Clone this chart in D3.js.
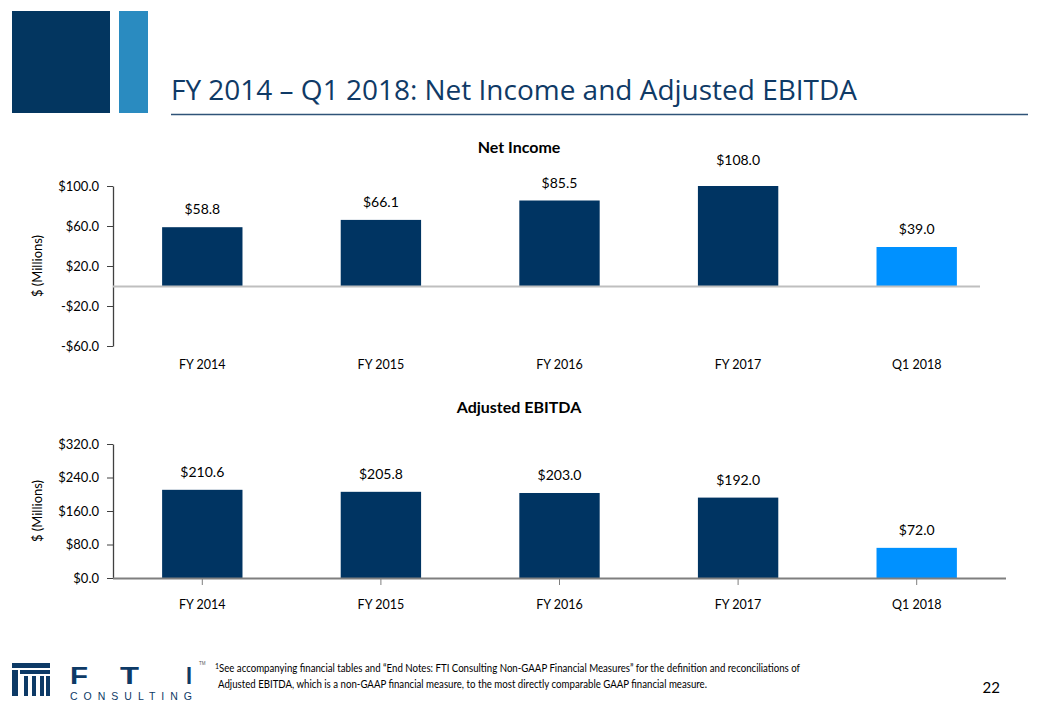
<!DOCTYPE html>
<html><head><meta charset="utf-8">
<script src="https://cdn.jsdelivr.net/npm/d3@7"></script>
<style>body{margin:0;background:#fff}svg{display:block}</style>
</head><body>
<script>
const categories = ["FY 2014","FY 2015","FY 2016","FY 2017","Q1 2018"];
const netIncome = [58.8, 66.1, 85.5, 108.0, 39.0];
const ebitda = [210.6, 205.8, 203.0, 192.0, 72.0];
const netTicks = [100, 60, 20, -20, -60];
const ebitdaTicks = [320, 240, 160, 80, 0];
const barColors = ["#003462","#003462","#003462","#003462","#0091ff"];

const W=1040,H=720;
const svg=d3.select("body").append("svg").attr("width",W).attr("height",H);
const font="Lato, 'Liberation Sans', sans-serif";

// header squares
svg.append("rect").attr("x",12).attr("y",11).attr("width",98).attr("height",102).attr("fill","#033660");
svg.append("rect").attr("x",119).attr("y",11).attr("width",29).attr("height",102).attr("fill","#2a8bc0");
svg.append("text").attr("x",171).attr("y",100).attr("font-family","'Open Sans', sans-serif").attr("font-size",28)
  .attr("fill","#0f3a66").attr("textLength",686).attr("lengthAdjust","spacingAndGlyphs")
  .text("FY 2014 – Q1 2018: Net Income and Adjusted EBITDA");
svg.append("line").attr("x1",171).attr("x2",1028).attr("y1",114.5).attr("y2",114.5).attr("stroke","#2f5378").attr("stroke-width",1.5);

const x=d3.scaleBand().domain(categories).range([113,1006]).paddingInner(0.55).paddingOuter(0.275);

function chart(opts){
  const {values,ticks,domain,yr,title,titleY,catY,zeroEnd,zeroColor,xTicks}=opts;
  const y=d3.scaleLinear().domain(domain).range(yr);
  svg.append("text").attr("x",519).attr("y",titleY).attr("text-anchor","middle").attr("font-family",font)
    .attr("font-weight","bold").attr("font-size",16).attr("fill","#000").text(title);
  const ya=svg.append("g").attr("transform","translate(113,0)").call(d3.axisLeft(y).tickValues(ticks).tickSize(6).tickSizeOuter(0)
     .tickFormat(d=>(d<0?"-$":"$")+Math.abs(d).toFixed(1)));
  ya.select(".domain").attr("stroke","#404040").attr("stroke-width",1.3);
  ya.selectAll(".tick line").attr("stroke","#404040");
  ya.selectAll(".tick text").attr("font-family",font).attr("font-size",13).attr("fill","#000").attr("x",-14);
  svg.append("text").attr("transform",`translate(42,${(yr[0]+yr[1])/2}) rotate(-90)`).attr("text-anchor","middle")
    .attr("font-family",font).attr("font-size",13).attr("fill","#000").text("$ (Millions)");
  const y0=y(0);
  const top=y(domain[1]);
  svg.append("g").selectAll("rect").data(values).join("rect")
    .attr("x",(d,i)=>x(categories[i])).attr("width",x.bandwidth())
    .attr("y",d=>Math.max(y(d),top)).attr("height",d=>y0-Math.max(y(d),top))
    .attr("fill",(d,i)=>barColors[i]);
  svg.append("line").attr("x1",113).attr("x2",zeroEnd).attr("y1",y0+0.5).attr("y2",y0+0.5).attr("stroke",zeroColor).attr("stroke-width",2);
  if(xTicks){
    svg.append("g").selectAll("line").data(categories).join("line")
      .attr("x1",d=>x(d)+x.bandwidth()/2).attr("x2",d=>x(d)+x.bandwidth()/2)
      .attr("y1",y0+1).attr("y2",y0+7).attr("stroke","#7f7f7f");
  }
  svg.append("g").selectAll("text").data(values).join("text")
    .attr("x",(d,i)=>x(categories[i])+x.bandwidth()/2).attr("y",d=>y(d)-13)
    .attr("text-anchor","middle").attr("font-family",font).attr("font-size",14).attr("fill","#000")
    .text(d=>"$"+d.toFixed(1));
  svg.append("g").selectAll("text").data(categories).join("text")
    .attr("x",d=>x(d)+x.bandwidth()/2).attr("y",catY).attr("text-anchor","middle")
    .attr("font-family",font).attr("font-size",12.5).attr("fill","#000").text(d=>d);
}

chart({values:netIncome,ticks:netTicks,domain:[-60,100],yr:[346,186],title:"Net Income",titleY:153,catY:369,
  zeroEnd:980,zeroColor:"#bfbfbf",xTicks:false});
chart({values:ebitda,ticks:ebitdaTicks,domain:[0,320],yr:[578,444],title:"Adjusted EBITDA",titleY:413,catY:609,
  zeroEnd:1006,zeroColor:"#7f7f7f",xTicks:true});

// footer logo
const navy="#0d3a66";
const lg=svg.append("g");
lg.append("rect").attr("x",12).attr("y",663).attr("width",38).attr("height",5).attr("fill",navy);
lg.append("rect").attr("x",12).attr("y",670).attr("width",6).attr("height",26).attr("fill",navy);
lg.append("rect").attr("x",20).attr("y",670).attr("width",30).attr("height",4).attr("fill",navy);
[24,32,40,46].forEach(xx=>lg.append("rect").attr("x",xx).attr("y",676).attr("width",4).attr("height",20).attr("fill",navy));
const lf="'Liberation Sans', sans-serif";
[["F",70,18],["T",120,19],["I",186,6]].forEach(([t,xx,w])=>lg.append("text").attr("x",xx).attr("y",684)
  .attr("font-family",lf).attr("font-weight","bold").attr("font-size",23).attr("fill",navy)
  .attr("textLength",w).attr("lengthAdjust","spacingAndGlyphs").text(t));
lg.append("text").attr("x",70).attr("y",700).attr("font-family",lf)
  .attr("font-size",10.5).attr("fill",navy).attr("textLength",122).attr("lengthAdjust","spacing").text("CONSULTING");
lg.append("text").attr("x",199).attr("y",665).attr("font-family",lf).attr("font-size",4.5).attr("fill","#555").text("TM");

// footnote
const fn=svg.append("text").attr("font-family",font).attr("font-size",10.5).attr("fill","#000");
fn.append("tspan").attr("x",215).attr("y",669).attr("font-size",7).text("1");
fn.append("tspan").attr("x",219).attr("y",672).attr("textLength",581).attr("lengthAdjust","spacingAndGlyphs")
  .text("See accompanying financial tables and “End Notes: FTI Consulting Non-GAAP Financial Measures” for the definition and reconciliations of");
svg.append("text").attr("font-family",font).attr("font-size",10.5).attr("fill","#000")
  .attr("x",218).attr("y",688).attr("textLength",489).attr("lengthAdjust","spacingAndGlyphs")
  .text("Adjusted EBITDA, which is a non-GAAP financial measure, to the most directly comparable GAAP financial measure.");
svg.append("text").attr("x",1000).attr("y",693).attr("text-anchor","end").attr("font-family",font).attr("font-size",15).attr("fill","#000").text("22");
</script>
</body></html>
